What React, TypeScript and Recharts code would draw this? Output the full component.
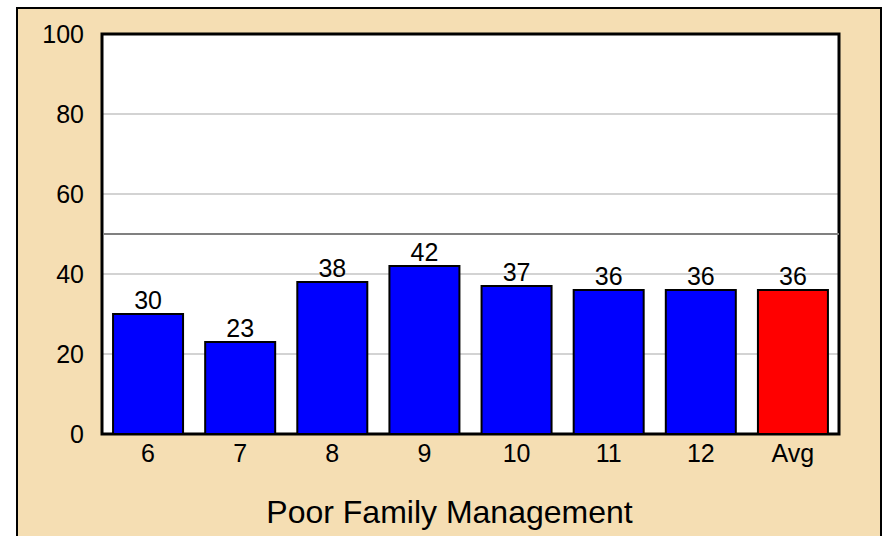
import React from 'react';
import { BarChart, Bar, XAxis, YAxis, CartesianGrid, ReferenceLine, ReferenceArea, LabelList, Cell } from 'recharts';

const categories = ['6', '7', '8', '9', '10', '11', '12', 'Avg'];
const values = [30, 23, 38, 42, 37, 36, 36, 36];
const yTicks = [0, 20, 40, 60, 80, 100];
const axisTitle = 'Poor Family Management';
const thresholdValue = 50;
const averageCategory = 'Avg';

const data = categories.map((c, i) => ({ category: c, value: values[i] }));

const FONT = '"Liberation Sans", Arial, Helvetica, sans-serif';

const TitleLabel = (props: any) => {
  const vb = props.viewBox || { x: 0, y: 0, width: 0, height: 0 };
  return (
    <text
      x={vb.x + vb.width / 2 - 21}
      y={vb.y + vb.height - 13}
      textAnchor="middle"
      fill="#000"
      fontSize={32}
      fontFamily={FONT}
    >
      {axisTitle}
    </text>
  );
};

export default function App() {
  return (
    <div style={{ position: 'absolute', left: 0, top: 0, width: 886, height: 536, overflow: 'hidden', background: '#fff' }}>
      <div
        style={{
          position: 'absolute',
          left: 16,
          top: 7,
          width: 866,
          height: 600,
          boxSizing: 'border-box',
          border: '2px solid #000',
          background: '#F5DEB3',
        }}
      />
      <div style={{ position: 'absolute', left: 0, top: 0 }}>
        <BarChart
          width={886}
          height={536}
          data={data}
          margin={{ top: 34, right: 47, bottom: 0, left: 0 }}
          barCategoryGap="12%"
        >
          <CartesianGrid horizontal vertical={false} stroke="#d3d3d3" strokeWidth={2} fill="#ffffff" fillOpacity={1} />
          <ReferenceLine y={thresholdValue} stroke="#808080" strokeWidth={2} />
          <XAxis
            dataKey="category"
            interval={0}
            tickLine={false}
            tickSize={0}
            tickMargin={10}
            height={102}
            axisLine={{ stroke: '#000', strokeWidth: 2 }}
            tick={{ fill: '#000', fontSize: 25, fontFamily: FONT }}
            label={<TitleLabel />}
          />
          <YAxis
            domain={[0, 100]}
            ticks={yTicks}
            interval={0}
            width={102}
            tickLine={false}
            tickSize={0}
            tickMargin={18}
            axisLine={{ stroke: '#000', strokeWidth: 2 }}
            tick={{ fill: '#000', fontSize: 25, fontFamily: FONT }}
          />
          <Bar dataKey="value" fill="#0000ff" stroke="#000" strokeWidth={2} isAnimationActive={false}>
            {data.map((d) => (
              <Cell key={d.category} fill={d.category === averageCategory ? '#ff0000' : '#0000ff'} />
            ))}
            <LabelList
              dataKey="value"
              position="top"
              offset={5}
              fill="#000"
              fontSize={25}
              fontFamily={FONT}
            />
          </Bar>
          <ReferenceArea y1={0} y2={100} fill="none" stroke="#000" strokeWidth={3} />
        </BarChart>
      </div>
    </div>
  );
}
